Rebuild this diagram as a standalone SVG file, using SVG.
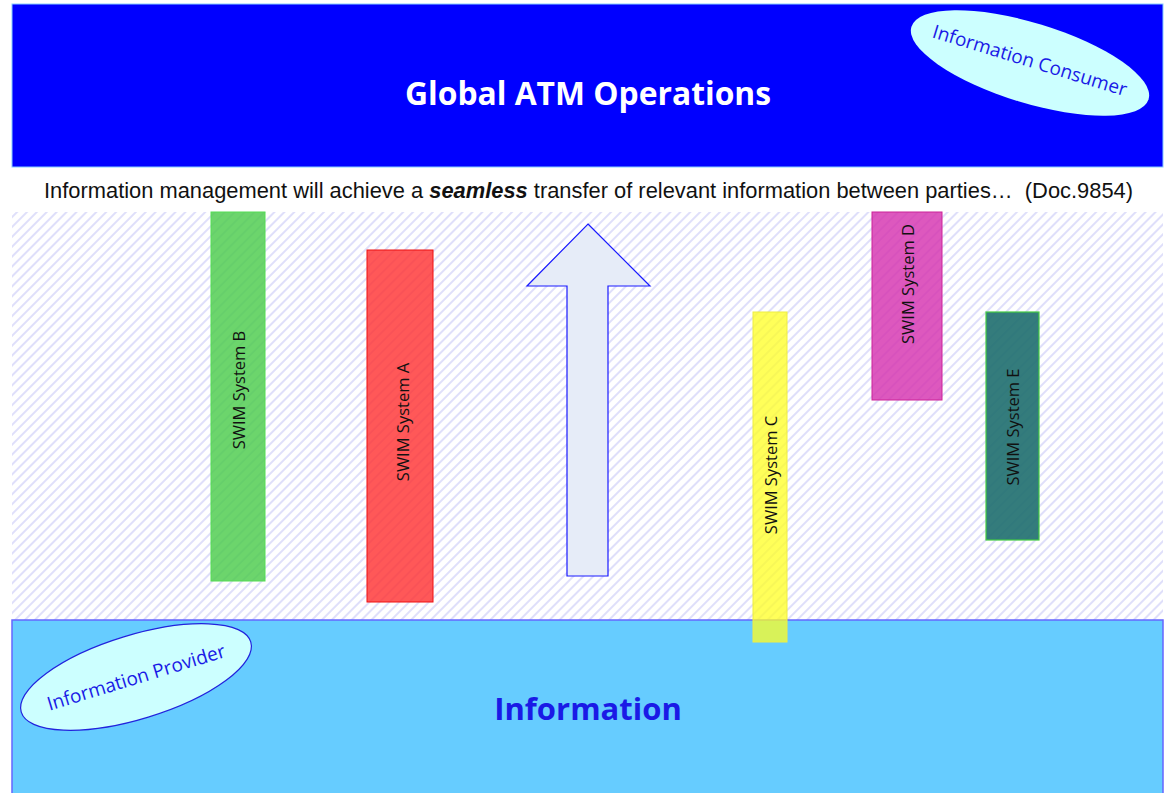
<svg xmlns="http://www.w3.org/2000/svg" width="1169" height="793" viewBox="0 0 1169 793">
<style>
.lbl{font-family:"Open Sans","Liberation Sans",sans-serif;font-size:16.5px;fill:#111;text-anchor:middle;dominant-baseline:central}
.ell{font-family:"Open Sans","Liberation Sans",sans-serif;font-size:19px;fill:#1a1ae6;text-anchor:middle;dominant-baseline:central}
.sys{fill-opacity:0.82}
</style>
<defs>
<pattern id="hatch" patternUnits="userSpaceOnUse" width="7" height="10" patternTransform="rotate(45)">
<line x1="1" y1="0" x2="1" y2="10" stroke="#cacaf6" stroke-width="1.2"/>
</pattern>
</defs>
<rect width="1169" height="793" fill="#ffffff"/>
<g id="hatched-area">
<rect x="12" y="212" width="1151" height="408" fill="url(#hatch)"/>
</g>
<g id="global-atm">
<rect x="12" y="4" width="1151" height="163" fill="#0000ff" stroke="#88ccff" stroke-width="1"/>
<text x="588" y="92" font-family="'Open Sans','Liberation Sans',sans-serif" font-size="31.8" font-weight="bold" fill="#ffffff" text-anchor="middle" dominant-baseline="central">Global ATM Operations</text>
</g>
<g id="info-consumer">
<ellipse cx="1030" cy="63" rx="124" ry="40" transform="rotate(17 1030 63)" fill="#ccffff"/>
<text class="ell" x="1030" y="60" transform="rotate(17 1030 60)">Information Consumer</text>
</g>
<g id="statement">
<text x="44" y="191" font-family="'Liberation Sans',Arial,sans-serif" font-size="21.5" fill="#111" dominant-baseline="central" textLength="1089" lengthAdjust="spacingAndGlyphs">Information management will achieve a <tspan font-weight="bold" font-style="italic">seamless</tspan> transfer of relevant information between parties…&#160; (Doc.9854)</text>
</g>
<g id="information">
<rect x="12" y="620" width="1151" height="180" fill="#66ccff" stroke="#6666ff" stroke-width="1.5"/>
<text x="588" y="708" font-family="'Open Sans','Liberation Sans',sans-serif" font-size="31" font-weight="bold" fill="#1a1ae6" text-anchor="middle" dominant-baseline="central">Information</text>
</g>
<g id="info-provider">
<ellipse cx="136" cy="677" rx="120" ry="42" transform="rotate(-17 136 677)" fill="#ccffff" stroke="#2222dd" stroke-width="1.2"/>
<text class="ell" x="136" y="677" transform="rotate(-17 136 677)">Information Provider</text>
</g>
<g id="swim-b">
<rect class="sys" x="211" y="212" width="54" height="369" fill="#4ccc4c" stroke="#55dd55" stroke-width="1"/>
<text class="lbl" x="238" y="390" transform="rotate(-90 238 390)">SWIM System B</text>
</g>
<g id="swim-a">
<rect class="sys" x="367" y="250" width="66" height="352" fill="#ff3333" stroke="#ee1111" stroke-width="1"/>
<text class="lbl" x="402" y="422" transform="rotate(-90 402 422)">SWIM System A</text>
</g>
<g id="arrow">
<polygon points="588,224 650,286 608,286 608,576 567,576 567,286 527,286" fill="#e6ecf8" stroke="#1a1aff" stroke-width="1.2"/>
</g>
<g id="swim-c">
<rect x="753" y="312" width="34" height="330" fill="#ffff22" fill-opacity="0.75" stroke="#eeee44" stroke-width="1"/>
<text class="lbl" x="770" y="475" transform="rotate(-90 770 475)">SWIM System C</text>
</g>
<g id="swim-d">
<rect class="sys" x="872" y="212" width="70" height="188" fill="#d633b0" stroke="#cc2299" stroke-width="1"/>
<text class="lbl" x="907" y="284" transform="rotate(-90 907 284)">SWIM System D</text>
</g>
<g id="swim-e">
<rect x="986" y="312" width="53" height="228" fill="#1e6e6e" fill-opacity="0.9" stroke="#44cc44" stroke-width="1.2"/>
<text class="lbl" x="1012" y="427" transform="rotate(-90 1012 427)">SWIM System E</text>
</g>
<g id="connectors"></g>
</svg>
